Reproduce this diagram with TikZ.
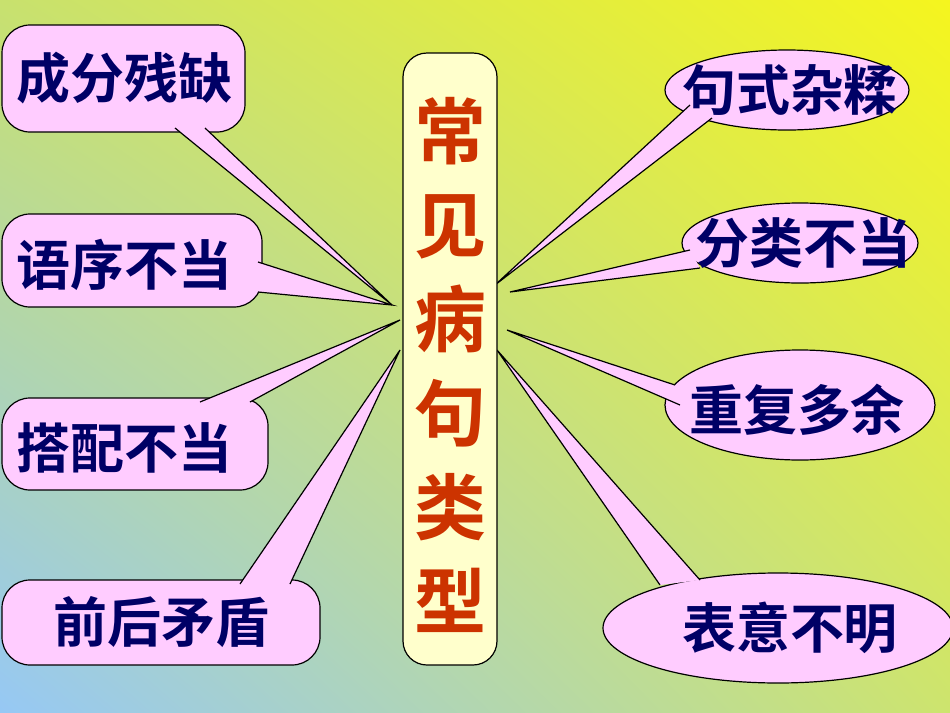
\documentclass[tikz,border=0pt]{standalone}
\usetikzlibrary{shadings}
\usepackage{fontspec}
\newfontfamily\cjk{Noto Sans CJK SC Bold}
\definecolor{pinkf}{HTML}{FFCCFF}
\definecolor{navy}{HTML}{000066}
\definecolor{redb}{HTML}{CC3300}
\definecolor{bgul}{RGB}{200,225,110}
\definecolor{bgur}{RGB}{245,245,30}
\definecolor{bgll}{RGB}{150,200,245}
\definecolor{bglr}{RGB}{205,228,110}
\definecolor{boxf}{RGB}{255,255,204}
\tikzset{lab/.style={font=\cjk\fontsize{27}{30}\selectfont,text=navy,inner sep=0pt},
 bub/.style={fill=pinkf,draw=black,line width=0.6pt},
 tailfill/.style={fill=pinkf},
 tailline/.style={draw=black,line width=0.6pt}}
\begin{document}
\begin{tikzpicture}[x=0.5pt,y=-0.5pt]
\useasboundingbox (0,0) rectangle (950,713);
\shade[upper left=bgul,upper right=bgur,lower left=bgll,lower right=bglr] (0,0) rectangle (950,713);
\newcommand\lcall[5]{%
 \filldraw[bub,rounded corners=14pt] (#1) rectangle (#2);
 \fill[tailfill] (#3) -- (#5) -- (#4) -- cycle;
 \draw[tailline] (#3) -- (#5) -- (#4);}
\lcall{2,25}{245,132}{175,128}{205,128}{392,305}
\lcall{2,214}{262,307}{258,262}{258,292}{392,305}
\lcall{2,398}{268,490}{200,402}{250,402}{400,320}
\lcall{2,580}{320,665}{240,584}{290,584}{400,350}
\newcommand\rcall[6]{%
 \filldraw[bub] (#1) ellipse [x radius=#2,y radius=#3];
 \fill[tailfill] (#4) -- (#6) -- (#5) -- cycle;
 \draw[tailline] (#4) -- (#6) -- (#5);}
\rcall{787,90}{122}{40}{690,105}{712,118}{495,285}
\rcall{800,243}{118}{40}{690,250}{700,268}{510,292}
\rcall{800,405}{135}{55}{675,385}{680,405}{507,330}
\rcall{778,628}{175}{55}{660,585}{700,580}{497,350}
\node[lab] (a1) at (125,78) {成分残缺};
\node[lab] (a2) at (125,265) {语序不当};
\node[lab] (a3) at (125,448) {搭配不当};
\node[lab] (a4) at (162,622) {前后矛盾};
\node[lab] (b1) at (790,90) {句式杂糅};
\node[lab] (b2) at (803,243) {分类不当};
\node[lab] (b3) at (797,410) {重复多余};
\node[lab] (b4) at (790,628) {表意不明};
\filldraw[fill=boxf,draw=black,line width=0.6pt,rounded corners=12pt] (403,53) rectangle (497,665);
\node[font=\cjk\fontsize{36}{47}\selectfont,text=redb,align=center,inner sep=0pt] (c) at (450,365)
 {常\\见\\病\\句\\类\\型};
\end{tikzpicture}
\end{document}
